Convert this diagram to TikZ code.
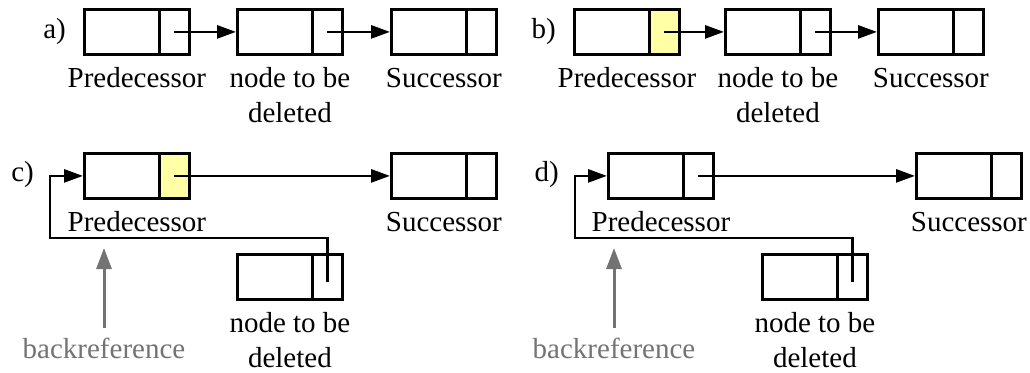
\documentclass[tikz,border=0pt]{standalone}
\usepackage{fontspec}
\setmainfont{Liberation Serif}
\usetikzlibrary{arrows.meta}
\definecolor{ptrfill}{RGB}{255,255,165}
\definecolor{refgray}{RGB}{115,115,115}
\begin{document}
\begin{tikzpicture}[x=1pt,y=-1pt,
  cell/.style={draw, line width=2.8pt, minimum width=105pt, minimum height=45pt,
               inner sep=0pt, anchor=north west},
  ptrcell/.style={draw, line width=2.8pt, minimum width=30pt, minimum height=45pt,
               inner sep=0pt, anchor=east},
  marked/.style={fill=ptrfill},
  link/.style={line width=2.7pt, -{Triangle[length=19pt,width=13pt]}},
  lbl/.style={font=\fontsize{29pt}{35pt}\selectfont, inner sep=0pt, align=center, anchor=base,
              yshift=-32pt},
  lbltwo/.style={lbl, yshift=-35pt},
  tag/.style={font=\fontsize{29pt}{35pt}\selectfont, inner sep=0pt, anchor=base east},
  reflbl/.style={font=\fontsize{29pt}{35pt}\selectfont, inner sep=0pt, anchor=base, text=refgray},
  refarrow/.style={draw=refgray, line width=3pt, shorten <=9pt,
               -{Triangle[length=21pt,width=15pt]}}]
\useasboundingbox (0,0) rectangle (1030,372);

% ---- a) ----
\node[tag] (ta) at (66,38) {a)};
\node[cell] (a1) at (83,8) {};
\node[ptrcell] (a1p) at (a1.east) {};
\node[cell] (a2) at (236,8) {};
\node[ptrcell] (a2p) at (a2.east) {};
\node[cell] (a3) at (390,8) {};
\node[ptrcell] (a3p) at (a3.east) {};
\draw[link] (a1p.center) -- (a2.west);
\draw[link] (a2p.center) -- (a3.west);
\node[lbl] (a1l) at (a1.south) {Predecessor};
\node[lbltwo] (a2l) at (a2.south) {node to be\\deleted};
\node[lbl] (a3l) at (a3.south) {Successor};

% ---- b) ----
\node[tag] (tb) at (556,38) {b)};
\node[cell] (b1) at (573,8) {};
\node[ptrcell, marked] (b1p) at (b1.east) {};
\node[cell] (b2) at (724,8) {};
\node[ptrcell] (b2p) at (b2.east) {};
\node[cell] (b3) at (877,8) {};
\node[ptrcell] (b3p) at (b3.east) {};
\draw[link] (b1p.center) -- (b2.west);
\draw[link] (b2p.center) -- (b3.west);
\node[lbl] (b1l) at (b1.south) {Predecessor};
\node[lbltwo] (b2l) at (b2.south) {node to be\\deleted};
\node[lbl] (b3l) at (b3.south) {Successor};

% ---- c) ----
\node[tag] (tc) at (34,181) {c)};
\node[cell] (c1) at (83,152) {};
\node[ptrcell, marked] (c1p) at (c1.east) {};
\node[cell] (c2) at (390,152) {};
\node[ptrcell] (c2p) at (c2.east) {};
\node[cell] (c3) at (236,253) {};
\node[ptrcell] (c3p) at (c3.east) {};
\draw[link] (c1p.center) -- (c2.west);
\coordinate (c3s) at ([yshift=-5pt]c3p.center);
\coordinate (cturn) at (50,238);
\draw[link] (c3s) |- (cturn) |- (c1.west);
\node[lbl] (c1l) at (c1.south) {Predecessor};
\node[lbl] (c2l) at (c2.south) {Successor};
\node[lbltwo] (c3l) at (c3.south) {node to be\\deleted};
\node[reflbl] (cref) at (104,358) {backreference};
\coordinate (creftip) at (104,248);
\draw[refarrow] (cref.north) -- (creftip);

% ---- d) ----
\node[tag] (td) at (559,181) {d)};
\node[cell] (d1) at (607,152) {};
\node[ptrcell] (d1p) at (d1.east) {};
\node[cell] (d2) at (915,152) {};
\node[ptrcell] (d2p) at (d2.east) {};
\node[cell] (d3) at (761,253) {};
\node[ptrcell] (d3p) at (d3.east) {};
\draw[link] (d1p.center) -- (d2.west);
\coordinate (d3s) at ([yshift=-5pt]d3p.center);
\coordinate (dturn) at (575,238);
\draw[link] (d3s) |- (dturn) |- (d1.west);
\node[lbl] (d1l) at (d1.south) {Predecessor};
\node[lbl] (d2l) at (d2.south) {Successor};
\node[lbltwo] (d3l) at (d3.south) {node to be\\deleted};
\node[reflbl] (dref) at (614,358) {backreference};
\coordinate (dreftip) at (614,248);
\draw[refarrow] (dref.north) -- (dreftip);
\end{tikzpicture}
\end{document}
